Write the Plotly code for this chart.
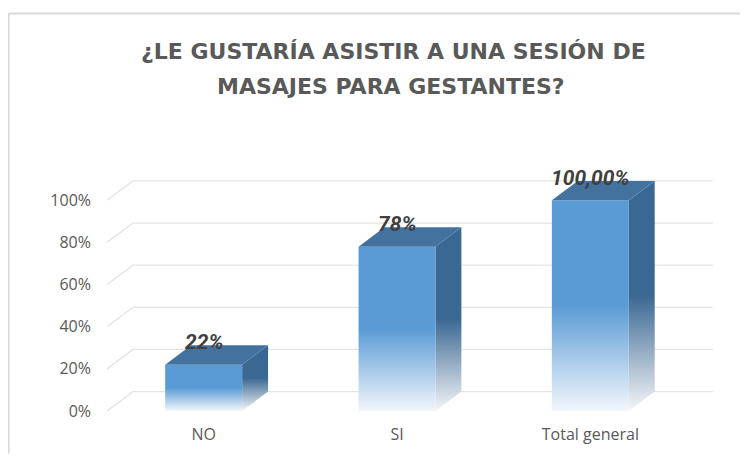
import plotly.graph_objects as go

# ---- data ----
categories = ["NO", "SI", "Total general"]
values = [22, 78, 100]
value_labels = ["22%", "78%", "100,00%"]
y_ticks = [0, 20, 40, 60, 80, 100]
y_tick_text = ["0%", "20%", "40%", "60%", "80%", "100%"]
title_line1 = "¿LE GUSTARÍA ASISTIR A UNA SESIÓN DE"
title_line2 = "MASAJES PARA GESTANTES?"

# ---- styling / geometry (figure sits at an 8px page offset) ----
OFF = 8
W, H = 748 - OFF, 457 - OFF
ML, MR, MT, MB = 107 - OFF, 31.5, 175 - OFF, 43
X_RANGE = [-0.5, 2.65]
Y_RANGE = [0, 112]
HALF_W = 0.199          # half bar width (x units)
DX, DY = 0.134, 9.2     # pseudo-3D depth offset (x units, y units)
FRONT = "#5B9BD5"
TOP = "#44729F"
SIDE = "#3B6892"
GRID = "#E3E3E3"

plot_w = W - ML - MR
plot_h = H - MT - MB

def px_to_paper_x(px):
    return (px - OFF - ML) / plot_w

def px_to_paper_y(py):
    return (H - MB - (py - OFF)) / plot_h

fig = go.Figure()

# gridlines on back wall + diagonals on left wall
gx, gy = [], []
for t in y_ticks:
    gx += [X_RANGE[0], X_RANGE[0] + DX, 2.5 + DX, None]
    gy += [t, t + DY, t + DY, None]
fig.add_trace(go.Scatter(x=gx, y=gy, mode="lines",
                         line=dict(color=GRID, width=1.3),
                         hoverinfo="skip", showlegend=False))

# bars (pseudo 3D)
for i, v in enumerate(values):
    x0, x1 = i - HALF_W, i + HALF_W
    # side face
    fig.add_trace(go.Scatter(
        x=[x1, x1 + DX, x1 + DX, x1, x1], y=[0, DY, v + DY, v, 0],
        mode="lines", fill="toself", line=dict(width=0),
        fillgradient=dict(type="vertical",
                          colorscale=[[0, "rgba(245,246,248,1)"], [0.5, SIDE], [1, SIDE]]),
        hoverinfo="skip", showlegend=False))
    # front face
    fig.add_trace(go.Scatter(
        x=[x0, x1, x1, x0, x0], y=[0, 0, v, v, 0],
        mode="lines", fill="toself", line=dict(width=0),
        fillgradient=dict(type="vertical",
                          colorscale=[[0, "rgba(242,247,252,1)"], [0.5, FRONT], [1, FRONT]]),
        hoverinfo="skip", showlegend=False))
    # top face
    fig.add_trace(go.Scatter(
        x=[x0, x1, x1 + DX, x0 + DX, x0], y=[v, v, v + DY, v + DY, v],
        mode="lines", fill="toself", fillcolor=TOP, line=dict(width=0),
        hoverinfo="skip", showlegend=False))
    # data label
    fig.add_annotation(x=i, y=v + DY, text=value_labels[i], showarrow=False,
                       yanchor="middle", yshift=3,
                       font=dict(family="Roboto", size=21, color="#404040",
                                 weight="bold", style="italic"))

# title (two lines)
fig.add_annotation(xref="paper", yref="paper", x=px_to_paper_x(394), y=px_to_paper_y(50),
                   text=title_line1, showarrow=False, yanchor="middle", xanchor="center",
                   font=dict(family="DejaVu Sans", size=22, color="#595959", weight="bold"))
fig.add_annotation(xref="paper", yref="paper", x=px_to_paper_x(391), y=px_to_paper_y(85),
                   text=title_line2, showarrow=False, yanchor="middle", xanchor="center",
                   font=dict(family="DejaVu Sans", size=22, color="#595959", weight="bold"))

# chart border (top and left edges)
fig.add_shape(type="line", xref="paper", yref="paper",
              x0=px_to_paper_x(8.5), x1=px_to_paper_x(748), y0=px_to_paper_y(11.5), y1=px_to_paper_y(11.5),
              line=dict(color="#D9D9D9", width=2))
fig.add_shape(type="line", xref="paper", yref="paper",
              x0=px_to_paper_x(8.5), x1=px_to_paper_x(8.5), y0=px_to_paper_y(11.5), y1=px_to_paper_y(457),
              line=dict(color="#D9D9D9", width=2))

fig.update_layout(
    width=W, height=H,
    margin=dict(l=ML, r=MR, t=MT, b=MB, pad=0),
    paper_bgcolor="white", plot_bgcolor="white",
    showlegend=False,
    xaxis=dict(range=X_RANGE, tickvals=[0, 1, 2], ticktext=categories,
               showgrid=False, zeroline=False, showline=False, ticks="",
               ticklabelstandoff=12,
               tickfont=dict(family="Open Sans", size=16, color="#595959")),
    yaxis=dict(range=Y_RANGE, tickvals=y_ticks, ticktext=y_tick_text,
               showgrid=False, zeroline=False, showline=False, ticks="",
               ticklabelstandoff=15,
               tickfont=dict(family="Open Sans", size=16, color="#595959")),
)

fig.write_html("out.html")
